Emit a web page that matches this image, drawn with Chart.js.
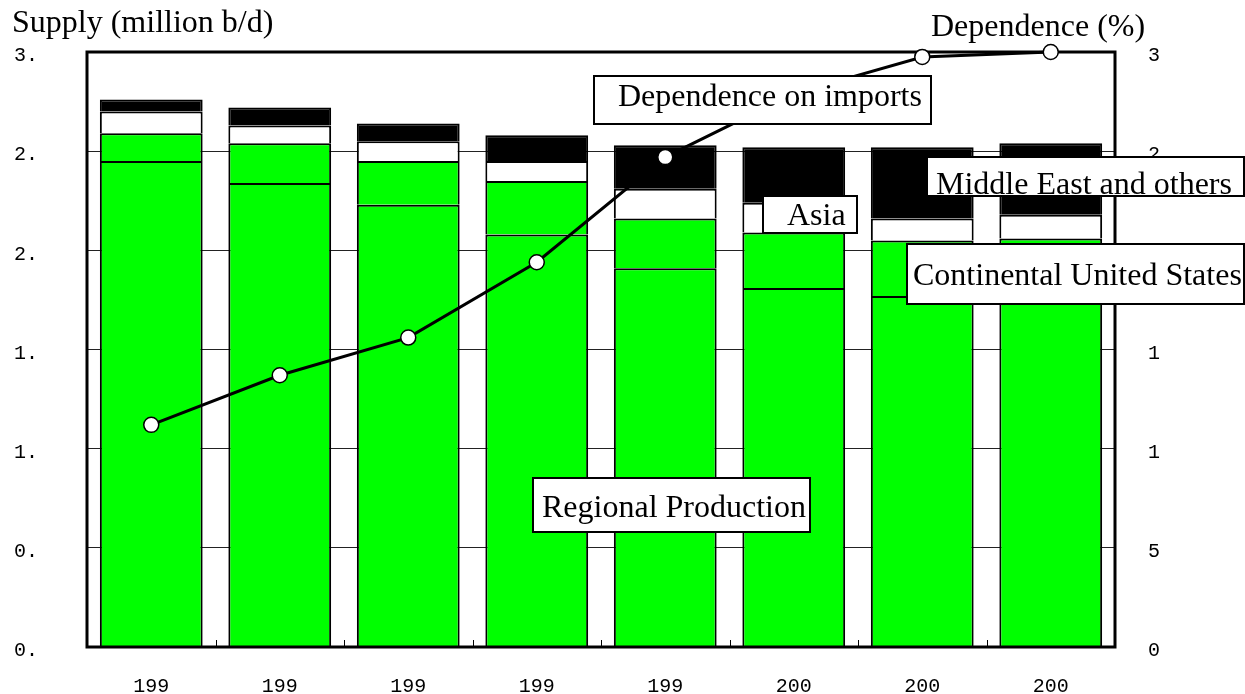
<!DOCTYPE html>
<html>
<head>
<meta charset="utf-8">
<script src="https://cdn.jsdelivr.net/npm/chart.js@4"></script>
<style>
  html, body { margin: 0; padding: 0; background: #fff; }
  canvas { display: block; }
</style>
</head>
<body>
<canvas id="supplyChart" width="1245" height="694"></canvas>
<script>
// Datos
const years = ['1995', '1996', '1997', '1998', '1999', '2000', '2001', '2002'];
const xTickLabels = ['199', '199', '199', '199', '199', '200', '200', '200'];
const leftTickLabels = ['0.', '0.', '1.', '1.', '2.', '2.', '3.'];
const rightTickLabels = ['0', '5', '1', '1', '2', '2', '3'];

// millones b/d (segmentos apilados)
const regionalProduction = [2.45, 2.34, 2.23, 2.08, 1.91, 1.81, 1.77, 1.79];
const continentalUS      = [0.14, 0.20, 0.22, 0.27, 0.25, 0.28, 0.28, 0.27];
const asia               = [0.11, 0.09, 0.10, 0.10, 0.15, 0.15, 0.11, 0.12];
const middleEast         = [0.06, 0.09, 0.09, 0.13, 0.22, 0.28, 0.36, 0.36];
// dependencia de importaciones (%)
const dependence = [11.2, 13.7, 15.6, 19.4, 24.7, 27.9, 29.75, 30.0];

const serif = '"Liberation Serif", "Times New Roman", serif';
const mono = '"Liberation Mono", "Courier New", monospace';

// Cuadros de texto encima del grafico
const boxes = [
    { text: 'Dependence on imports', box: [594, 76, 931, 124], tx: 618, ty: 106 },
    { text: 'Middle East and others', box: [927, 157, 1244, 196], tx: 936, ty: 194 },
    { text: 'Asia', box: [763, 196, 857, 233], tx: 787, ty: 225 },
    { text: 'Continental United States', box: [907, 244, 1244, 304], tx: 913, ty: 285 },
    { text: 'Regional Production', box: [533, 478, 810, 532], tx: 542, ty: 517 }
];

const framePlugin = {
    id: 'frame',
    beforeDatasetsDraw(chart) {
        const { ctx, chartArea: a, scales } = chart;
        ctx.save();
        // marcas pequeñas entre categorias
        ctx.strokeStyle = '#000';
        ctx.lineWidth = 1;
        for (let i = 0; i < years.length - 1; i++) {
            const x = Math.round((scales.x.getPixelForValue(i) + scales.x.getPixelForValue(i + 1)) / 2) + 0.5;
            ctx.beginPath();
            ctx.moveTo(x, a.bottom);
            ctx.lineTo(x, a.bottom - 7);
            ctx.stroke();
        }
        ctx.restore();
    },
    // el marco va encima de las barras pero debajo de la linea
    beforeDatasetDraw(chart, args) {
        if (args.meta.type !== 'line') return;
        const { ctx, chartArea: a } = chart;
        ctx.save();
        ctx.strokeStyle = '#000';
        ctx.lineWidth = 3;
        ctx.strokeRect(a.left, a.top, a.right - a.left, a.bottom - a.top);
        ctx.restore();
    }
};

const labelsPlugin = {
    id: 'boxLabels',
    afterDraw(chart) {
        const ctx = chart.ctx;
        ctx.save();
        ctx.font = '32px ' + serif;
        ctx.textBaseline = 'alphabetic';
        ctx.textAlign = 'left';
        ctx.fillStyle = '#000';
        // titulos de ejes
        ctx.fillText('Supply (million b/d)', 12, 32);
        ctx.fillText('Dependence (%)', 931, 36);
        boxes.forEach(b => {
            const [x1, y1, x2, y2] = b.box;
            ctx.fillStyle = '#fff';
            ctx.fillRect(x1, y1, x2 - x1, y2 - y1);
            ctx.strokeStyle = '#000';
            ctx.lineWidth = 2;
            ctx.strokeRect(x1, y1, x2 - x1, y2 - y1);
            ctx.fillStyle = '#000';
            ctx.fillText(b.text, b.tx, b.ty);
        });
        ctx.restore();
    }
};

function barSet(label, data, color) {
    return {
        type: 'bar',
        label,
        data,
        backgroundColor: color,
        borderColor: '#000',
        borderWidth: { top: 2, left: 2, right: 2, bottom: 0 },
        borderSkipped: false,
        barPercentage: 0.8,
        categoryPercentage: 1.0,
        yAxisID: 'y',
        stack: 'supply',
        order: 1
    };
}

// quitar el relleno automatico que Chart.js deja para las etiquetas
function noPad(s) {
    s.paddingTop = 0;
    s.paddingBottom = 0;
    s.paddingLeft = 0;
    s.paddingRight = 0;
}

new Chart(document.getElementById('supplyChart').getContext('2d'), {
    data: {
        labels: years,
        datasets: [
            {
                type: 'line',
                label: 'Dependence on imports',
                data: dependence,
                yAxisID: 'y1',
                borderColor: '#000',
                borderWidth: 3,
                tension: 0,
                pointRadius: 7.5,
                pointBackgroundColor: '#fff',
                pointBorderColor: '#000',
                pointBorderWidth: 1.5,
                clip: false,
                order: 0
            },
            barSet('Regional Production', regionalProduction, '#00ff00'),
            barSet('Continental United States', continentalUS, '#00ff00'),
            barSet('Asia', asia, '#ffffff'),
            barSet('Middle East and others', middleEast, '#000000')
        ]
    },
    options: {
        responsive: false,
        animation: false,
        layout: { padding: { top: 52, left: 0, right: 0, bottom: 0 } },
        plugins: {
            legend: { display: false },
            tooltip: { enabled: false }
        },
        scales: {
            x: {
                stacked: true,
                grid: { display: false, drawTicks: false },
                border: { display: false },
                ticks: {
                    padding: 28,
                    color: '#000',
                    font: { family: mono, size: 20 },
                    callback: (v, i) => xTickLabels[i]
                },
                afterFit: s => { s.height = 47; noPad(s); }
            },
            y: {
                position: 'left',
                stacked: true,
                min: 0,
                max: 3,
                grid: { color: '#222', lineWidth: 1, drawTicks: false },
                border: { display: false },
                ticks: {
                    stepSize: 0.5,
                    padding: 49,
                    labelOffset: 4,
                    color: '#000',
                    font: { family: mono, size: 20 },
                    callback: (v, i) => leftTickLabels[i]
                },
                afterFit: s => { s.width = 87; noPad(s); }
            },
            y1: {
                position: 'right',
                stacked: false,
                min: 0,
                max: 30,
                grid: { drawOnChartArea: false, drawTicks: false },
                border: { display: false },
                ticks: {
                    stepSize: 5,
                    padding: 33,
                    labelOffset: 4,
                    color: '#000',
                    font: { family: mono, size: 20 },
                    callback: (v, i) => rightTickLabels[i]
                },
                afterFit: s => { s.width = 130; noPad(s); }
            }
        }
    },
    plugins: [framePlugin, labelsPlugin]
});
</script>
</body>
</html>
